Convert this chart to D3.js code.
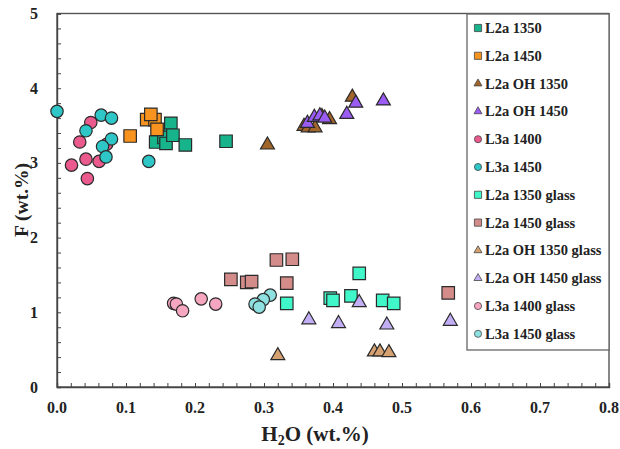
<!DOCTYPE html>
<html>
<head>
<meta charset="utf-8">
<script src="https://cdn.jsdelivr.net/npm/d3@7"></script>
<style>
  html, body { margin: 0; padding: 0; background: #fff; }
  svg { display: block; }
  text { font-family: "Liberation Serif", "Times New Roman", serif; font-weight: bold; fill: #222; }
</style>
</head>
<body>
<svg id="chart" width="620" height="449"></svg>
<script>
// ---- data ----
const seriesNames = ["L2a 1350", "L2a 1450", "L2a OH 1350", "L2a OH 1450", "L3a 1400", "L3a 1450",
  "L2a 1350 glass", "L2a 1450 glass", "L2a OH 1350 glass", "L2a OH 1450 glass", "L3a 1400 glass", "L3a 1450 glass"];
const seriesColors = ["#17b48c", "#f7931e", "#a2652a", "#9a5cf2", "#ea5a8c", "#2ec6c6",
  "#3ff7c8", "#d48c8a", "#d6a170", "#c2aef4", "#f7a6c0", "#8fe0e0"];
const seriesShapes = ["square", "square", "triangle", "triangle", "circle", "circle",
  "square", "square", "triangle", "triangle", "circle", "circle"];

const l2a1350 = [[0.165, 3.53], [0.164, 3.37], [0.143, 3.28], [0.155, 3.34], [0.158, 3.26], [0.168, 3.37], [0.186, 3.24], [0.245, 3.29]];
const l2a1450 = [[0.106, 3.36], [0.130, 3.58], [0.142, 3.58], [0.136, 3.65], [0.145, 3.45]];
const l2aOH1350 = [[0.305, 3.24], [0.358, 3.49], [0.364, 3.47], [0.374, 3.47], [0.384, 3.62], [0.395, 3.58], [0.428, 3.88]];
const l2aOH1450 = [[0.363, 3.53], [0.373, 3.61], [0.381, 3.63], [0.388, 3.60], [0.420, 3.65], [0.433, 3.80], [0.473, 3.83]];
const l3a1400 = [[0.049, 3.54], [0.033, 3.28], [0.072, 3.25], [0.061, 3.02], [0.021, 2.97], [0.042, 3.05], [0.044, 2.79]];
const l3a1450 = [[0.000, 3.69], [0.064, 3.64], [0.079, 3.60], [0.042, 3.43], [0.079, 3.32], [0.066, 3.22], [0.071, 3.08], [0.133, 3.02]];
const l2a1350g = [[0.333, 1.12], [0.396, 1.19], [0.400, 1.16], [0.426, 1.22], [0.438, 1.52], [0.472, 1.16], [0.488, 1.12]];
const l2a1450g = [[0.318, 1.70], [0.341, 1.71], [0.252, 1.44], [0.275, 1.40], [0.282, 1.41], [0.333, 1.39], [0.567, 1.26]];
const l2aOH1350g = [[0.320, 0.42], [0.460, 0.47], [0.468, 0.47], [0.481, 0.46]];
const l2aOH1450g = [[0.365, 0.90], [0.408, 0.85], [0.438, 1.13], [0.478, 0.83], [0.570, 0.88]];
const l3a1400g = [[0.169, 1.12], [0.173, 1.11], [0.182, 1.02], [0.209, 1.18], [0.230, 1.11]];
const l3a1450g = [[0.309, 1.23], [0.299, 1.17], [0.287, 1.11], [0.293, 1.07]];

const xTicks = [0, 0.1, 0.2, 0.3, 0.4, 0.5, 0.6, 0.7, 0.8];
const yTicks = [0, 1, 2, 3, 4, 5];
const yTitle = "F (wt.%)";

const seriesData = [l2a1350, l2a1450, l2aOH1350, l2aOH1450, l3a1400, l3a1450,
  l2a1350g, l2a1450g, l2aOH1350g, l2aOH1450g, l3a1400g, l3a1450g];

// ---- layout ----
const svg = d3.select("#chart");
const mLeft = 57, mRight = 609, mTop = 13.5, mBottom = 387;
const x = d3.scaleLinear().domain([0, 0.8]).range([mLeft, mRight]);
const y = d3.scaleLinear().domain([0, 5]).range([mBottom, mTop]);

const symMap = { square: d3.symbolSquare, circle: d3.symbolCircle, triangle: d3.symbolTriangle };
const symSize = { square: 156, circle: 121, triangle: 84 };
const sym = (shape, scale = 1) => d3.symbol().type(symMap[shape]).size(symSize[shape] * scale)();

// plot frame
svg.append("rect").attr("x", mLeft).attr("y", mTop).attr("width", mRight - mLeft).attr("height", mBottom - mTop)
  .attr("fill", "none").attr("stroke", "#555").attr("stroke-width", 1.4);

// x axis (inner minor ticks)
const xAxis = d3.axisBottom(x).tickValues(d3.range(0, 0.8001, 0.02)).tickSize(-4).tickFormat("");
const gx = svg.append("g").attr("transform", `translate(0,${mBottom})`).call(xAxis);
gx.select(".domain").attr("stroke", "#444").attr("stroke-width", 1.4);
gx.selectAll(".tick line").attr("stroke", "#444");
svg.append("g").selectAll("text").data(xTicks).join("text")
  .attr("x", d => x(d)).attr("y", 413).attr("text-anchor", "middle").attr("font-size", 16)
  .text(d => d.toFixed(1));

// y axis
const yAxis = d3.axisLeft(y).tickValues(d3.range(0, 5.001, 0.2)).tickSize(-4).tickFormat("");
const gy = svg.append("g").attr("transform", `translate(${mLeft},0)`).call(yAxis);
gy.select(".domain").attr("stroke", "#444").attr("stroke-width", 1.4);
gy.selectAll(".tick line").attr("stroke", "#444");
svg.append("g").selectAll("text").data(yTicks).join("text")
  .attr("x", 38).attr("y", d => y(d) + 5.5).attr("text-anchor", "end").attr("font-size", 16)
  .text(d => d);

// axis titles
const xt = svg.append("text").attr("x", 315).attr("y", 441).attr("text-anchor", "middle").attr("font-size", 21);
xt.append("tspan").text("H");
xt.append("tspan").attr("font-size", 14).attr("dy", 3.5).text("2");
xt.append("tspan").attr("dy", -3.5).text("O (wt.%)");
svg.append("text").attr("transform", "translate(28,200) rotate(-90)").attr("text-anchor", "middle")
  .attr("font-size", 19.5).text(yTitle);

// points
seriesData.forEach((data, i) => {
  svg.append("g").selectAll("path").data(data).join("path")
    .attr("d", sym(seriesShapes[i]))
    .attr("transform", d => `translate(${x(d[0])},${y(d[1])})`)
    .attr("fill", seriesColors[i]).attr("stroke", "#2a2a2a").attr("stroke-width", 1.2);
});

// legend
const lg = svg.append("g");
lg.append("rect").attr("x", 467).attr("y", 14).attr("width", 142).attr("height", 336)
  .attr("fill", "#fff").attr("stroke", "#666").attr("stroke-width", 1.3);
seriesNames.forEach((name, i) => {
  const cy = 28 + i * 27.8;
  lg.append("path").attr("d", sym(seriesShapes[i], 0.33))
    .attr("transform", `translate(478,${cy})`)
    .attr("fill", seriesColors[i]).attr("stroke", "#444").attr("stroke-width", 0.8);
  lg.append("text").attr("x", 485).attr("y", cy + 5).attr("font-size", 14.5).text(name);
});
</script>
</body>
</html>
